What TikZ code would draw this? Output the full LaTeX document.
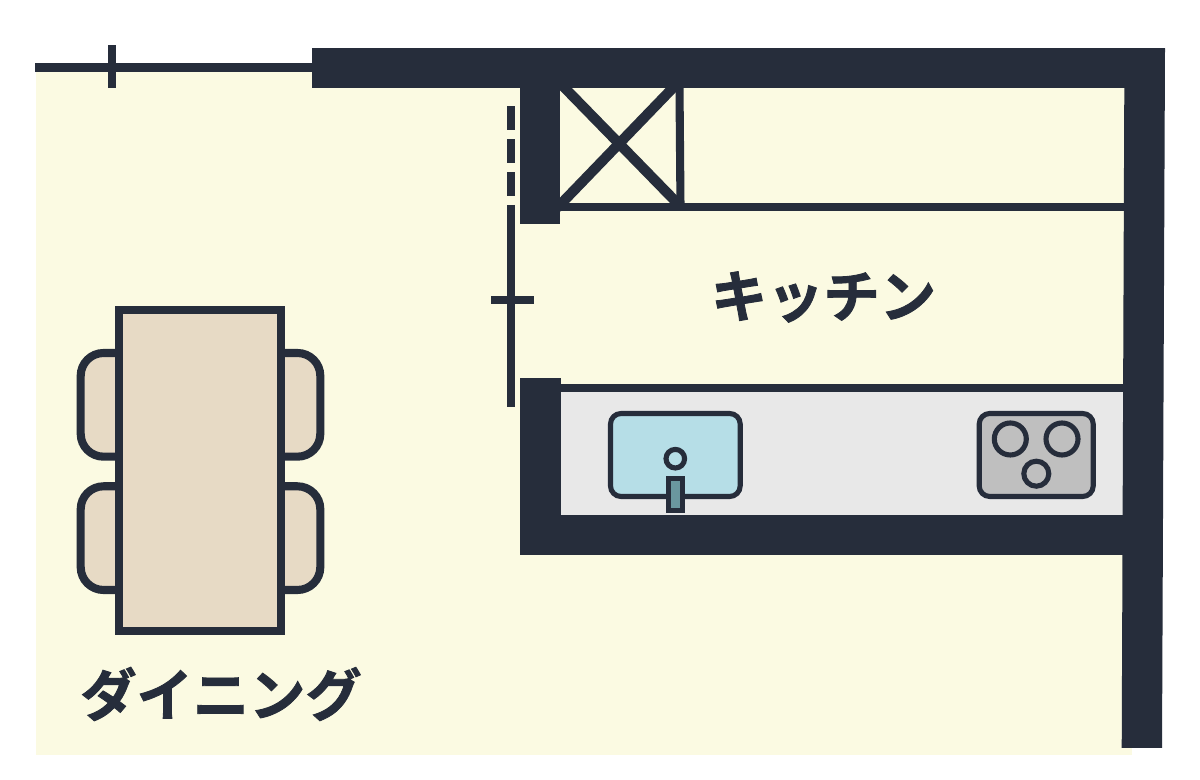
\documentclass[tikz,border=0pt]{standalone}
\usepackage{fontspec}
\usepackage{xcolor}
\newfontfamily\jpfont[FakeBold=1.5]{Noto Sans CJK JP Bold}
\definecolor{floorcol}{HTML}{FBFAE2}
\definecolor{wallcol}{HTML}{262D3B}
\definecolor{woodcol}{HTML}{E7DAC5}
\definecolor{countercol}{HTML}{E8E8E8}
\definecolor{sinkcol}{HTML}{B6DEE7}
\definecolor{faucetcol}{HTML}{6A979F}
\definecolor{stovecol}{HTML}{BFBFBF}
\tikzset{
  wall/.style={fill=wallcol},
  thinwall/.style={draw=wallcol,line width=2.3pt},
  fixture/.style={draw=wallcol,line width=1.45pt},
  roomlabel/.style={text=wallcol,font=\jpfont\fontsize{16pt}{18pt}\selectfont,inner sep=0pt},
}
\begin{document}
\begin{tikzpicture}[x=0.01cm,y=-0.01cm]
\useasboundingbox (0,0) rectangle (1200,780);
\fill[white] (0,0) rectangle (1200,780);
\fill[floorcol] (36,67) rectangle (1132,755);
\fill[white] (36,0) rectangle (1200,48);
% counter
\fill[countercol] (560,392) rectangle (1124,515);
% walls
\fill[wall] (312,48.5) rectangle (1165,88.5);
\fill[wall] (1124.3,88) -- (1121.7,748) -- (1162,748) -- (1165,48.5) -- cycle;
\fill[wall] (519.5,88) rectangle (559.5,224.5);
\fill[wall] (520,378) rectangle (560.5,555);
\fill[wall] (520,515) rectangle (1123,555.5);
% thin walls
\draw[thinwall] (35,67.5) -- (312,67.5);
\draw[thinwall] (112,45.5) -- (112,88.5);
\draw[thinwall] (559,207) -- (1124,207);
\draw[thinwall] (560,387.7) -- (1124,387.7);
\draw[thinwall] (679.5,88) -- (680.5,207);
\draw[thinwall,line width=2.9pt] (558,81) -- (681,207);
\draw[thinwall,line width=2.9pt] (680,80.5) -- (557,208);
% door
\foreach \ya/\yb in {106.5/130,139.5/163.5,172.5/196,205/407.5}
  \draw[thinwall] (511.3,\ya) -- (511.3,\yb);
\draw[thinwall] (491,300) -- (534,300);
% chairs
\foreach \xa/\xb in {119/80.7,281/320.3}
  \foreach \ya/\yb in {353/456.7,486.3/590}
    \draw[thinwall,fill=woodcol,rounded corners=6.5pt] (\xa,\ya) -- (\xb,\ya) -- (\xb,\yb) -- (\xa,\yb);
% table
\draw[thinwall,fill=woodcol] (119,310) rectangle (281.3,631.3);
% sink
\draw[fixture,fill=sinkcol,rounded corners=3pt] (610.5,413.5) rectangle (740.2,496.5);
\draw[fixture,fill=sinkcol] (675.3,458.7) circle (9.3);
\draw[fixture,fill=faucetcol] (668.5,478.5) rectangle (682.2,510.2);
% stove
\draw[fixture,fill=stovecol,rounded corners=3pt] (979.2,413.5) rectangle (1093.2,496.5);
\draw[fixture] (1010.3,439) circle (16);
\draw[fixture] (1062,439) circle (16);
\draw[fixture] (1036.3,473.7) circle (12.5);
% labels
\node[roomlabel] (kitchen) at (823.5,297) {キッチン};
\node[roomlabel] (dining) at (221,694) {ダイニング};
\end{tikzpicture}
\end{document}
